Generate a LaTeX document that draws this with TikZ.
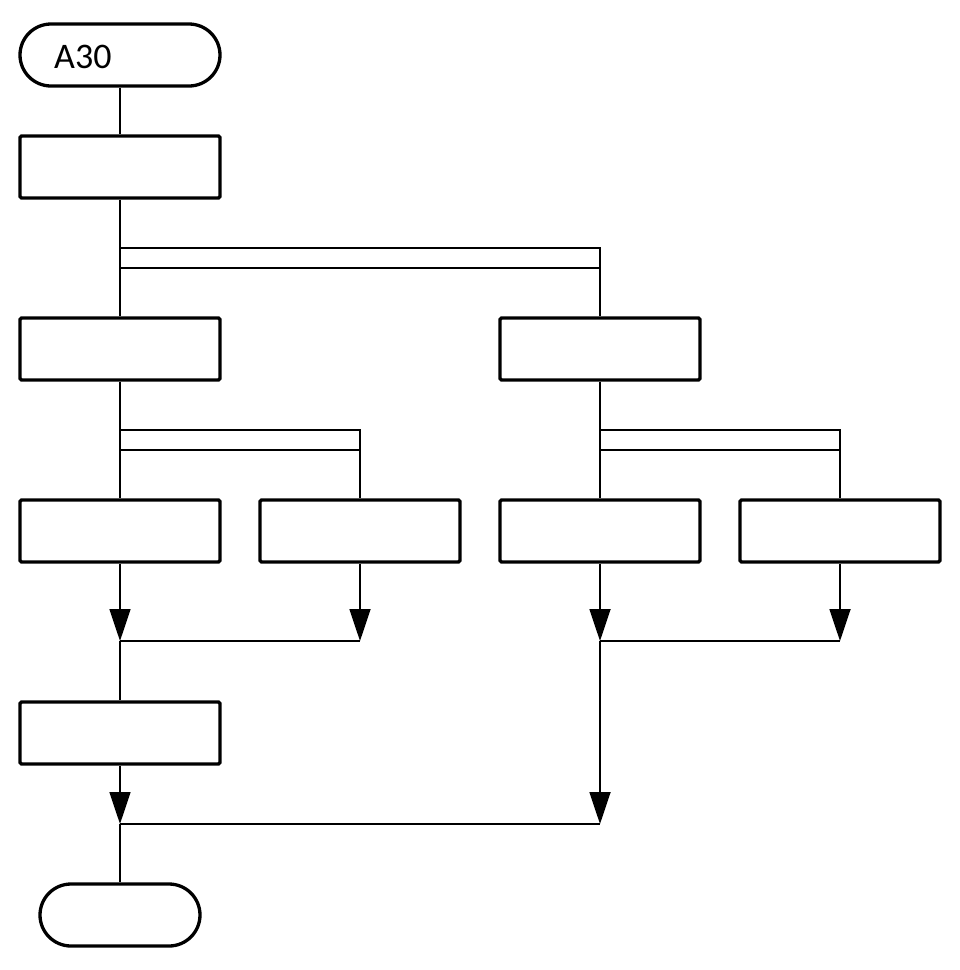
\documentclass[tikz,border=0pt]{standalone}
\usepackage{fontspec}
\setmainfont{Carlito}
\usetikzlibrary{arrows.meta}
\begin{document}
\begin{tikzpicture}[x=1pt,y=-1pt,
  procbox/.style={draw,line width=3.3pt,minimum width=200pt,minimum height=62pt,inner sep=0pt,rounded corners=1.5pt},
  termbox/.style={draw,line width=3.3pt,minimum height=62pt,inner sep=0pt,rounded corners=31pt},
  conn/.style={line width=1.8pt},
  arr/.style={conn,-{Triangle[length=32pt,width=21pt]}}]
\useasboundingbox (0,0) rectangle (960,970);
\node[termbox,minimum width=200pt] (start) at (120,55) {};
\node[anchor=base west,inner sep=0pt,font=\fontsize{36}{42}\selectfont] (lbl) at (54,68.5) {A30};
\node[procbox] (b1) at (120,167) {};
\node[procbox] (b2) at (120,349) {};
\node[procbox] (b3) at (600,349) {};
\node[procbox] (b4) at (120,531) {};
\node[procbox] (b5) at (360,531) {};
\node[procbox] (b6) at (600,531) {};
\node[procbox] (b7) at (840,531) {};
\node[procbox] (b8) at (120,733) {};
\node[termbox,minimum width=160pt] (stop) at (120,915) {};
\coordinate (f1a) at (120,248);
\coordinate (f1b) at (120,268);
\coordinate (f2a) at (120,430);
\coordinate (f2b) at (120,450);
\coordinate (f3a) at (600,430);
\coordinate (f3b) at (600,450);
\coordinate (m1) at (120,641);
\coordinate (m2) at (600,641);
\coordinate (m3) at (120,824);
\coordinate (m3r) at (600,824);
\draw[conn] (start) -- (b1);
\draw[conn] (b1) -- (b2);
\draw[conn] (f1a) -| (b3.north);
\draw[conn] (f1b) -- (f1b -| b3.north);
\draw[conn] (b2) -- (b4);
\draw[conn] (f2a) -| (b5.north);
\draw[conn] (f2b) -- (f2b -| b5.north);
\draw[conn] (b3) -- (b6);
\draw[conn] (f3a) -| (b7.north);
\draw[conn] (f3b) -- (f3b -| b7.north);
\draw[arr] (b4) -- (m1);
\draw[arr] (b5) -- (b5 |- m1);
\draw[conn] (m1) -- (b5 |- m1);
\draw[conn] (m1) -- (b8);
\draw[arr] (b6) -- (m2);
\draw[arr] (b7) -- (b7 |- m2);
\draw[conn] (m2) -- (b7 |- m2);
\draw[arr] (m2) -- (m3r);
\draw[arr] (b8) -- (m3);
\draw[conn] (m3) -- (m3r);
\draw[conn] (m3) -- (stop);
\end{tikzpicture}
\end{document}
